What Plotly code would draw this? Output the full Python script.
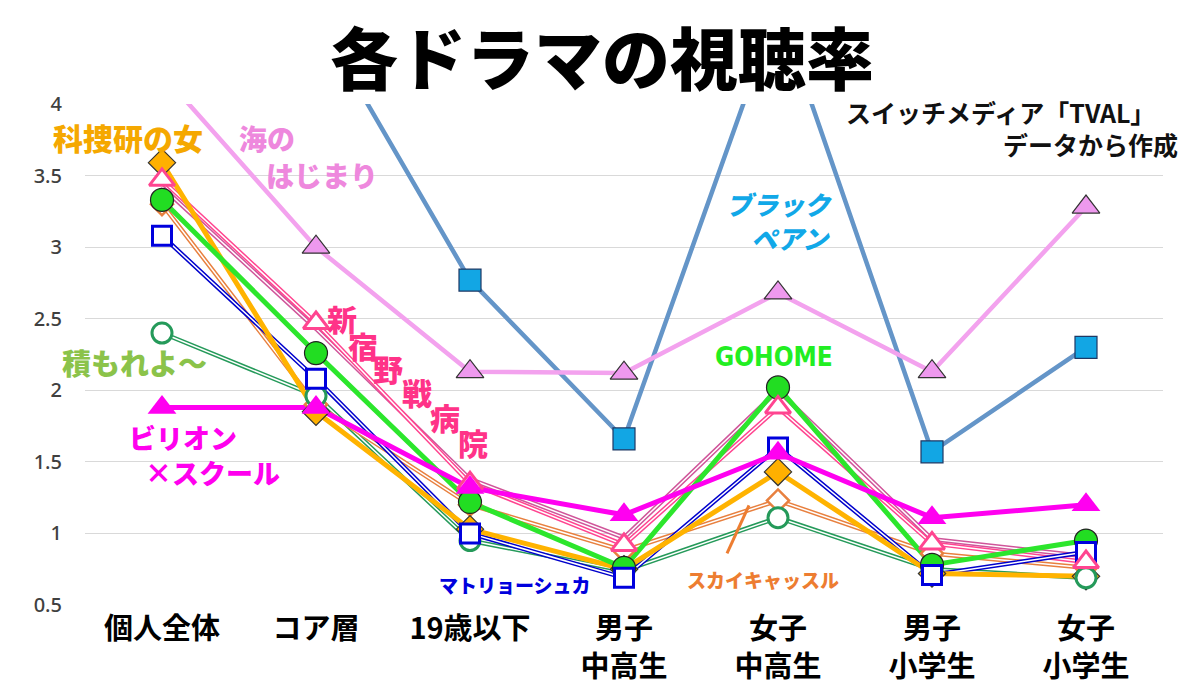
import plotly.graph_objects as go

categories = ["個人全体", "コア層", "19歳以下", "男子<br>中高生", "女子<br>中高生", "男子<br>小学生", "女子<br>小学生"]

black_pean = [5.90, 4.62, 2.77, 1.66, 4.68, 1.57, 2.30]
umi = [4.21, 3.00, 2.13, 2.12, 2.68, 2.13, 3.28]
tsumoreyo = [2.40, 1.96, 0.95, 0.74, 1.11, 0.75, 0.69]
sky_castle = [3.30, 1.90, 1.20, 0.88, 1.23, 0.86, 0.76]
other = [3.42, 2.43, 1.38, 0.97, 2.00, 0.96, 0.84]
shinjuku = [3.47, 2.47, 1.35, 0.92, 1.88, 0.93, 0.80]
matryoshka = [3.08, 2.08, 1.00, 0.69, 1.60, 0.71, 0.87]
kasouken = [3.59, 1.85, 1.03, 0.75, 1.43, 0.72, 0.70]
gohome = [3.33, 2.26, 1.22, 0.76, 2.02, 0.78, 0.95]
billion = [1.88, 1.88, 1.32, 1.13, 1.56, 1.11, 1.20]

# style table: (values, line colour, double?, line width, marker symbol, fill, marker line colour, marker line width, size)
series = {
    "ブラックペアン": (black_pean, "#6495C8", False, 4.5, "square", "#12A6E4", "#1F3864", 1.2, 22),
    "海のはじまり": (umi, "#F3A2EE", False, 4.5, "triangle-up", "#EE99EE", "#333333", 1.2, 24),
    "積もれよ〜": (tsumoreyo, "#259A5A", True, 4.5, "circle", "white", "#259A5A", 3, 20),
    "スカイキャッスル": (sky_castle, "#E8803F", True, 4.5, "diamond", "white", "#E8803F", 2.5, 17),
    "その他": (other, "#D0559A", True, 4.5, None, None, None, 0, 0),
    "新宿野戦病院": (shinjuku, "#FF4590", True, 4.5, "triangle-up", "white", "#FF4590", 3, 22),
    "マトリョーシュカ": (matryoshka, "#0000CC", True, 4.5, "square", "white", "#0000DD", 3, 19),
    "科捜研の女": (kasouken, "#FFB300", False, 5, "diamond", "#FFB000", "#333333", 1.2, 21),
    "GOHOME": (gohome, "#2CE62C", False, 5, "circle", "#22DD22", "#222222", 1.2, 23),
    "ビリオン×スクール": (billion, "#FF00F0", False, 5, "triangle-up", "#FF00F0", "#FF00F0", 0, 25),
}
marker_order = ["ブラックペアン", "海のはじまり", "スカイキャッスル", "科捜研の女", "積もれよ〜",
                "GOHOME", "マトリョーシュカ", "新宿野戦病院", "ビリオン×スクール"]

fig = go.Figure()
for name, (vals, col, dbl, lw, sym, fill, mlc, mlw, ms) in series.items():
    fig.add_trace(go.Scatter(x=categories, y=vals, mode="lines", name=name,
                             line=dict(color=col, width=lw), hoverinfo="skip"))
    if dbl:
        fig.add_trace(go.Scatter(x=categories, y=vals, mode="lines", name=name,
                                 line=dict(color="white", width=1.5), hoverinfo="skip"))
for name in marker_order:
    vals, col, dbl, lw, sym, fill, mlc, mlw, ms = series[name]
    fig.add_trace(go.Scatter(x=categories, y=vals, mode="markers", name=name,
                             marker=dict(symbol=sym, size=ms, color=fill,
                                         line=dict(color=mlc, width=mlw))))

# page pixel -> data coordinates (plot area spans x 85..1163, y 104..605 on the page)
def X(px):
    return (px - 162) / 154

def Y(py):
    return 4 - (py - 104) / 143

def PX(px):
    return (px - 85) / 1078

def PY(py):
    return (605 - py) / 501

JP = "Noto Sans CJK JP"
labels = [
    ("科捜研の女", 128, 137, "#F5A800", 30, "normal"),
    ("海の", 267, 138, "#EE88DD", 28, "normal"),
    ("はじまり", 322, 175, "#EE88DD", 28, "normal"),
    ("新", 342, 318, "#FF3388", 30, "normal"),
    ("宿", 363, 345, "#FF3388", 30, "normal"),
    ("野", 388, 368, "#FF3388", 30, "normal"),
    ("戦", 417, 392, "#FF3388", 30, "normal"),
    ("病", 445, 417, "#FF3388", 30, "normal"),
    ("院", 473, 442, "#FF3388", 30, "normal"),
    ("積もれよ〜", 134, 362, "#8BC34A", 29, "normal"),
    ("ビリオン", 183, 437, "#FF00EE", 27, "normal"),
    ("×スクール", 212, 472, "#FF00EE", 27, "normal"),
    ("ブラック", 779, 203, "#11A8E8", 26, "italic"),
    ("ペアン", 790, 237, "#11A8E8", 26, "italic"),
    ("マトリョーシュカ", 515, 584, "#0000DD", 19, "normal"),
    ("スカイキャッスル", 763, 579, "#ED7D31", 19, "normal"),
]
ann = []
for t, px, py, c, s, st in labels:
    ann.append(dict(x=X(px), y=Y(py), xref="x", yref="y", text=t, showarrow=False,
                    xanchor="center", yanchor="middle",
                    font=dict(family=JP, size=s, color=c, weight=900, style=st)))
ann.append(dict(x=X(774), y=Y(357), xref="x", yref="y", text="GOHOME", showarrow=False,
                xanchor="center", yanchor="middle",
                font=dict(family="DejaVu Sans Condensed, Liberation Sans Narrow, Noto Sans",
                          size=26, color="#22EE22", weight=700)))
# title and source
ann.append(dict(x=PX(602), y=PY(55), xref="paper", yref="paper", xanchor="center", yanchor="middle",
                text="各ドラマの視聴率", showarrow=False,
                font=dict(family=JP, size=68, color="black", weight=900)))
ann.append(dict(x=PX(1157), y=PY(112), xref="paper", yref="paper", xanchor="right", yanchor="middle",
                text="スイッチメディア「TVAL」", showarrow=False,
                font=dict(family=JP, size=25, color="#111111", weight=700)))
ann.append(dict(x=PX(1180), y=PY(144), xref="paper", yref="paper", xanchor="right", yanchor="middle",
                text="データから作成", showarrow=False,
                font=dict(family=JP, size=25, color="#111111", weight=700)))

# the page body has an 8px margin, so the figure is shifted by 8px; compensate
fig.update_layout(
    width=1192, height=679, autosize=False,
    margin=dict(l=77, r=37, t=96, b=82),
    paper_bgcolor="white", plot_bgcolor="white",
    showlegend=False,
    annotations=ann,
    shapes=[dict(type="line", xref="x", yref="y", x0=X(727), y0=Y(553), x1=X(749), y1=Y(505),
                 line=dict(color="#ED7D31", width=3))],
)
fig.update_xaxes(type="category", range=[-0.5, 6.5], showgrid=False, zeroline=False, showline=False,
                 automargin=False,
                 tickfont=dict(family=JP, size=29, color="black", weight=700), ticklabelstandoff=4)
fig.update_yaxes(range=[0.5, 4], dtick=0.5, tick0=0.5, showgrid=True, gridcolor="#D9D9D9", gridwidth=1,
                 zeroline=False, showline=False, automargin=False,
                 tickfont=dict(family="Noto Sans", size=20, color="#404040", weight=500),
                 ticklabelstandoff=22)

fig.write_html("out.html")
